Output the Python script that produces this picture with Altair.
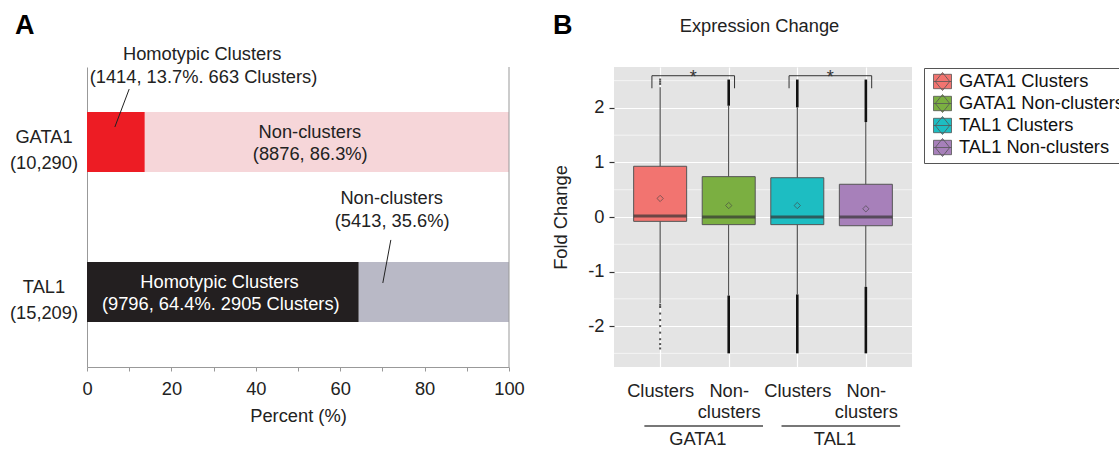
import altair as alt
import pandas as pd

FONT = "Liberation Sans"
INK = "#222222"
FS = 18.3

# ---------------- Panel A: composition of binding sites ----------------
factors = ["GATA1", "TAL1"]
factor_totals = ["10,290", "15,209"]
cluster_sites = [1414, 9796]
cluster_pct = [13.7, 64.4]
cluster_count = [663, 2905]
noncluster_sites = [8876, 5413]
noncluster_pct = [86.3, 35.6]
segment_colors = {
    "GATA1 clusters": "#ED1C24",
    "GATA1 non-clusters": "#F6D6D9",
    "TAL1 clusters": "#231F20",
    "TAL1 non-clusters": "#B9B9C6",
}

# ---------------- Panel B: expression change per group ----------------
groups = ["GATA1 Clusters", "GATA1 Non-clusters", "TAL1 Clusters", "TAL1 Non-clusters"]
tick_names = ["Clusters", "Non-clusters", "Clusters", "Non-clusters"]
group_colors = ["#F27470", "#7BAF41", "#1DBDC2", "#A780BA"]
box_q1 = [-0.08, -0.14, -0.14, -0.16]
box_median = [0.02, 0.0, 0.0, 0.0]
box_q3 = [0.93, 0.74, 0.72, 0.60]
box_mean = [0.34, 0.21, 0.21, 0.15]
whisker_low = [-1.58, -1.44, -1.42, -1.28]
whisker_high = [2.38, 2.04, 2.01, 1.74]
outlier_low = [-2.42, -2.50, -2.50, -2.50]
outlier_high = [2.52, 2.52, 2.52, 2.52]
dense_outliers = [False, True, True, True]
gata1_cluster_outliers = [2.44, 2.48, 2.52, -1.61, -1.65, -1.77, -1.89, -2.0,
                          -2.12, -2.24, -2.33, -2.41]
factor_pairs = [("GATA1", 1, 2), ("TAL1", 3, 4)]
y_ticks_b = [-2, -1, 0, 1, 2]
y_minor_b = [-2.5, -1.5, -0.5, 0.5, 1.5, 2.5]

# ======================= Panel A =======================
n_rows = len(factors)
seg_rows = []
for i, f in enumerate(factors):
    yc = n_rows - i - 0.5
    seg_rows.append(dict(key=f"{f} clusters", start=0.0, end=cluster_pct[i],
                         y0=yc - 0.2, y1=yc + 0.2))
    seg_rows.append(dict(key=f"{f} non-clusters", start=cluster_pct[i],
                         end=cluster_pct[i] + noncluster_pct[i],
                         y0=yc - 0.2, y1=yc + 0.2))
seg = pd.DataFrame(seg_rows)
seg["col"] = seg["key"].map(segment_colors)

xA = alt.Scale(domain=[0, 100], nice=False)
yA = alt.Scale(domain=[0, n_rows], nice=False)

# the same axis definitions are handed to every layer so they merge cleanly
axA_x = alt.Axis(
    values=list(range(0, 101, 10)),
    labelExpr="datum.value % 20 == 0 ? datum.label : ''",
    title="Percent (%)", grid=False, tickSize=4, tickColor="#999999",
    domainColor="#999999", labelPadding=9, titlePadding=10, labelFontSize=FS,
    titleFontSize=FS, titleFontWeight="normal", labelColor=INK,
    titleColor=INK, labelFlush=False)
axA_y = alt.Axis(labels=False, ticks=False, grid=False, title=None,
                 domainColor="#999999")


def XA(field):
    return alt.X(field, scale=xA, axis=axA_x)


def YA(field):
    return alt.Y(field, scale=yA, axis=axA_y)


bars = alt.Chart(seg).mark_bar().encode(
    x=XA("start:Q"), x2="end:Q",
    y=YA("y0:Q"), y2="y1:Q",
    color=alt.Color("col:N", scale=None),
)

right_edge = alt.Chart(pd.DataFrame({"start": [100], "y0": [0], "y1": [n_rows]})).mark_rule(
    color="#999999", strokeWidth=1
).encode(x=XA("start:Q"), y=YA("y0:Q"), y2="y1:Q")

# row labels: factor name over its total site count
row_label_rows = []
for i, f in enumerate(factors):
    yc = n_rows - i - 0.5
    row_label_rows.append(dict(t=f, y0=yc + 0.027))
    row_label_rows.append(dict(t=f"({factor_totals[i]})", y0=yc - 0.147))
row_labels = alt.Chart(pd.DataFrame(row_label_rows)).mark_text(
    fontSize=FS, align="center", baseline="middle", color=INK
).encode(x=alt.value(-43), y=YA("y0:Q"), text="t:N")

g, t = 0, 1
ann = pd.DataFrame([
    dict(text="Homotypic Clusters", start=27.3, y0=2.08, c=INK),
    dict(text=f"({cluster_sites[g]}, {cluster_pct[g]}%. {cluster_count[g]} Clusters)",
         start=27.6, y0=1.927, c=INK),
    dict(text="Non-clusters", start=52.8, y0=1.56, c=INK),
    dict(text=f"({noncluster_sites[g]}, {noncluster_pct[g]}%)", start=52.9, y0=1.413, c=INK),
    dict(text="Non-clusters", start=72.2, y0=1.12, c=INK),
    dict(text=f"({noncluster_sites[t]}, {noncluster_pct[t]}%)", start=72.3, y0=0.967, c=INK),
    dict(text="Homotypic Clusters", start=31.4, y0=0.56, c="white"),
    dict(text=f"({cluster_sites[t]}, {cluster_pct[t]}%. {cluster_count[t]} Clusters)",
         start=31.7, y0=0.413, c="white"),
])
ann_text = alt.Chart(ann).mark_text(fontSize=FS, align="center", baseline="middle").encode(
    x=XA("start:Q"), y=YA("y0:Q"), text="text:N",
    color=alt.Color("c:N", scale=None),
)

leaders = pd.DataFrame([
    dict(start=10.0, end=6.6, y0=1.853, y1=1.60),
    dict(start=72.0, end=70.1, y0=0.847, y1=0.56),
])
leader_lines = alt.Chart(leaders).mark_rule(color=INK, strokeWidth=1).encode(
    x=XA("start:Q"), x2="end:Q", y=YA("y0:Q"), y2="y1:Q",
)

letter_a = alt.Chart(pd.DataFrame({"t": ["A"]})).mark_text(
    fontSize=27, fontWeight="bold", align="left", baseline="middle", color="black"
).encode(text="t:N", x=alt.value(-72), y=alt.value(-41))

panel_a = alt.layer(bars, right_edge, leader_lines, ann_text, row_labels, letter_a).properties(
    width=422, height=300, view=alt.ViewBackground(stroke=None)
)

# ======================= Panel B =======================
pos = [i + 1 for i in range(len(groups))]
box = pd.DataFrame(dict(group=groups, pos=pos, q1=box_q1, med=box_median, q3=box_q3,
                        mean=box_mean, wlo=whisker_low, whi=whisker_high,
                        olo=outlier_low, ohi=outlier_high, dense=dense_outliers))
dense = box[box["dense"]]
sparse = pd.DataFrame({"pos": [pos[0]] * len(gata1_cluster_outliers),
                       "v": gata1_cluster_outliers})

xB = alt.Scale(domain=[0.4, len(groups) + 0.6], nice=False, zero=False)
yB = alt.Scale(domain=[-2.75, 2.75], nice=False, zero=False)

x_label_expr = ""
for p, name in zip(pos, tick_names):
    if "-" in name:
        k = name.index("-") + 1
        lab = f"['{name[:k]}', '{name[k:]}']"
    else:
        lab = f"'{name}'"
    x_label_expr += f"datum.value == {p} ? {lab} : "
x_label_expr += "''"

axB_x = alt.Axis(
    values=pos, labelExpr=x_label_expr, grid=True, gridColor="white",
    gridWidth=1.2, ticks=False, tickSize=0, domain=False, labelFontSize=FS,
    labelLineHeight=21, labelBaseline="top", labelPadding=15, title=None,
    labelColor=INK, labelFlush=False)
axB_y = alt.Axis(
    values=y_ticks_b,
    labelExpr="datum.value < 0 ? '-' + abs(datum.value) : '' + datum.value",
    grid=True, gridColor="white", gridWidth=1.2, tickSize=5,
    tickColor="#333333", tickWidth=1.2, domain=False, labelPadding=5,
    labelFontSize=FS, labelColor=INK, title="Fold Change", titleFontSize=FS,
    titleFontWeight="normal", titleColor=INK, titlePadding=17)


def XB(field):
    return alt.X(field, scale=xB, axis=axB_x)


def YB(field):
    return alt.Y(field, scale=yB, axis=axB_y)


minor_grid = alt.Chart(pd.DataFrame({"v": y_minor_b})).mark_rule(
    color="white", strokeWidth=0.6
).encode(y=YB("v:Q"))

whiskers = alt.Chart(box).mark_rule(color="#333333", strokeWidth=1).encode(
    x=XB("pos:Q"), y=YB("wlo:Q"), y2="whi:Q",
)
dense_low = alt.Chart(dense).mark_rule(color="#111111", strokeWidth=2.6).encode(
    x=XB("pos:Q"), y=YB("olo:Q"), y2="wlo:Q",
)
dense_high = alt.Chart(dense).mark_rule(color="#111111", strokeWidth=2.6).encode(
    x=XB("pos:Q"), y=YB("whi:Q"), y2="ohi:Q",
)
sparse_pts = alt.Chart(sparse).mark_point(
    shape="square", filled=True, size=4, color="#333333", opacity=0.85
).encode(x=XB("pos:Q"), y=YB("v:Q"))

KEY_SHAPE = "M-1,-0.8H1V0.8H-1Z M0,-1L0.8,0L0,1L-0.8,0Z M-1,0H1"
boxes = alt.Chart(box).mark_bar(size=53, stroke="#555555", strokeWidth=1).encode(
    x=XB("pos:Q"), y=YB("q1:Q"), y2="q3:Q",
    color=alt.Color("group:N", scale=alt.Scale(domain=groups, range=group_colors),
                    legend=alt.Legend(
                        title=None, orient="none", legendX=310, legendY=1,
                        symbolType=KEY_SHAPE, symbolSize=324,
                        symbolStrokeColor="#555555", symbolStrokeWidth=0.8,
                        labelFontSize=FS, labelColor="#111111", labelLimit=400,
                        strokeColor="#555555", fillColor="white", padding=4,
                        rowPadding=-1, labelOffset=7, symbolOffset=5)),
)
medians = alt.Chart(box).mark_tick(
    orient="horizontal", size=53, thickness=3, color="#333333"
).encode(x=XB("pos:Q"), y=YB("med:Q"))
means = alt.Chart(box).mark_point(
    shape="diamond", filled=False, size=40, strokeWidth=0.9, color="#444444"
).encode(x=XB("pos:Q"), y=YB("mean:Q"))

# significance brackets between clusters and non-clusters of each factor
br_rows, leg_rows, star_rows, under_rows, flab_rows = [], [], [], [], []
for name, a, b in factor_pairs:
    left, right = a - 0.12, b + 0.085
    br_rows.append(dict(pos=left, pos2=right, v=2.59))
    leg_rows += [dict(pos=left, v=2.36, v2=2.59), dict(pos=right, v=2.36, v2=2.59)]
    star_rows.append(dict(pos=(left + right) / 2, v=2.46, t="*"))
    under_rows.append(dict(pos=a - 0.23, pos2=b + 0.5, v=-3.83))
    flab_rows.append(dict(pos=a + 0.55, v=-4.08, t=name))

bracket_top = alt.Chart(pd.DataFrame(br_rows)).mark_rule(color="#333333", strokeWidth=1).encode(
    x=XB("pos:Q"), x2="pos2:Q", y=YB("v:Q"),
)
bracket_legs = alt.Chart(pd.DataFrame(leg_rows)).mark_rule(color="#333333", strokeWidth=1).encode(
    x=XB("pos:Q"), y=YB("v:Q"), y2="v2:Q",
)
stars = alt.Chart(pd.DataFrame(star_rows)).mark_text(
    fontSize=18, align="center", baseline="alphabetic", color="#333333"
).encode(x=XB("pos:Q"), y=YB("v:Q"), text="t:N")
underlines = alt.Chart(pd.DataFrame(under_rows)).mark_rule(color="#777777", strokeWidth=2).encode(
    x=XB("pos:Q"), x2="pos2:Q", y=YB("v:Q"),
)
factor_labels = alt.Chart(pd.DataFrame(flab_rows)).mark_text(
    fontSize=FS, align="center", baseline="middle", color=INK
).encode(x=XB("pos:Q"), y=YB("v:Q"), text="t:N")

letter_b = alt.Chart(pd.DataFrame({"t": ["B"]})).mark_text(
    fontSize=27, fontWeight="bold", align="left", baseline="middle", color="black"
).encode(text="t:N", x=alt.value(-61), y=alt.value(-41))
title_b = alt.Chart(pd.DataFrame({"t": ["Expression Change"]})).mark_text(
    fontSize=FS, align="center", baseline="middle", color=INK
).encode(text="t:N", x=alt.value(145.5), y=alt.value(-40))

panel_b = alt.layer(
    minor_grid, whiskers, dense_low, dense_high, sparse_pts, boxes, medians, means,
    bracket_top, bracket_legs, stars, underlines, factor_labels, letter_b, title_b,
).properties(
    width=298, height=300,
    view=alt.ViewBackground(fill="#E4E4E4", stroke=None),
)

# the legend runs past the right edge of the figure, so the right padding is
# negative to keep the page at its nominal width and crop the overhang
chart = alt.hconcat(panel_a, panel_b, spacing=105, bounds="flush").resolve_scale(
    color="independent"
).properties(
    padding={"left": 9, "top": 12, "right": -10, "bottom": 0},
    background="white",
).configure(font=FONT)

chart.save("out.html", embed_options={"renderer": "svg", "actions": False})
